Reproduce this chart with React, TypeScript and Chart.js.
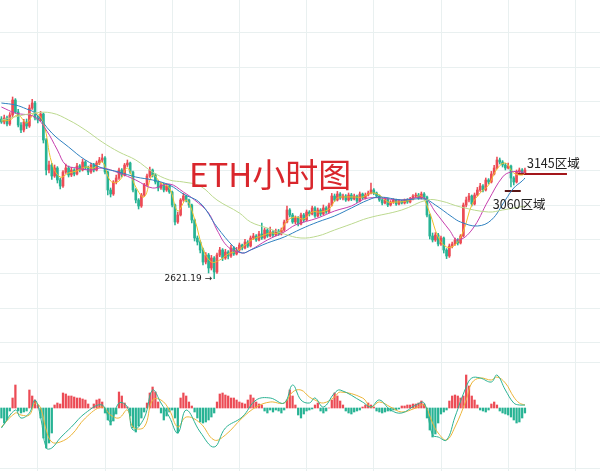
import React, { useEffect, useRef } from "react";
import { Chart, registerables } from "chart.js";
Chart.register(...registerables);

// ---- candle data (hourly ETH) ----
const opens = [
  3420,3405,3425,3395,3440,3515,3455,3390,3365,3405,
  3385,3475,3500,3425,3415,3445,3315,3165,3190,3135,
  3175,3115,3085,3155,3175,3140,3165,3145,3185,3165,
  3205,3175,3155,3190,3165,3200,3215,3225,3155,3065,
  3045,3105,3125,3165,3140,3190,3200,3155,3065,3015,
  2985,3040,3090,3135,3165,3140,3105,3075,3090,3065,
  3085,3055,2990,2905,2940,3015,3035,3015,2990,2915,
  2825,2805,2765,2705,2740,2675,2725,2655,2740,2765,
  2725,2755,2735,2775,2745,2765,2790,2775,2805,2785,
  2825,2835,2815,2845,2825,2865,2835,2855,2840,2860,
  2845,2865,2905,2965,2940,2905,2925,2895,2940,2915,
  2955,2945,2975,2935,2965,2945,2975,2955,2990,3035,
  3015,3045,3025,3035,3015,3040,3020,3035,3010,3045,
  3025,3040,3050,3065,3050,3035,3015,3000,3020,2990,
  3005,3015,2995,3010,3000,3015,3005,3020,3035,3040,
  3025,3045,3030,2940,2835,2815,2840,2795,2825,2765,
  2735,2785,2795,2815,2800,2835,2990,3015,3035,2995,
  3040,3065,3085,3065,3115,3105,3145,3175,3215,3205,
  3190,3175,3185,3125,3105,3155,3165,3150,
];
const highs = [
  3432,3440,3435,3452,3530,3522,3468,3402,3418,3420,
  3490,3518,3508,3436,3458,3450,3322,3210,3198,3190,
  3182,3125,3162,3195,3185,3178,3172,3198,3192,3218,
  3212,3185,3200,3198,3210,3228,3245,3232,3160,3075,
  3112,3140,3175,3172,3198,3215,3205,3160,3072,3022,
  3048,3098,3145,3180,3170,3148,3112,3102,3098,3095,
  3092,3060,2995,2955,3022,3048,3040,3020,2995,2920,
  2835,2812,2775,2752,2748,2738,2732,2750,2778,2772,
  2768,2762,2790,2782,2778,2800,2795,2818,2812,2835,
  2848,2842,2858,2900,2875,2872,2880,2862,2870,2868,
  2875,2915,2985,2972,2948,2935,2932,2950,2948,2965,
  2962,2985,2982,2975,2972,2990,2982,3000,3048,3045,
  3058,3052,3045,3042,3050,3048,3045,3040,3055,3050,
  3050,3060,3100,3072,3055,3040,3022,3028,3025,3012,
  3022,3020,3018,3015,3020,3022,3028,3042,3050,3048,
  3055,3052,3035,2945,2850,2852,2848,2835,2830,2772,
  2795,2805,2825,2822,2842,3000,3030,3048,3040,3050,
  3078,3098,3092,3125,3122,3158,3188,3230,3225,3212,
  3198,3200,3190,3132,3165,3175,3172,3175,
];
const lows = [
  3398,3396,3385,3388,3432,3448,3380,3352,3355,3372,
  3378,3468,3415,3400,3408,3300,3140,3150,3118,3128,
  3100,3070,3078,3148,3130,3132,3136,3140,3155,3160,
  3168,3142,3148,3155,3160,3192,3205,3145,3040,3030,
  3038,3095,3118,3130,3135,3182,3148,3055,3000,2970,
  2978,3032,3085,3128,3130,3095,3060,3068,3055,3058,
  3048,2980,2890,2898,2935,3008,3005,2978,2900,2810,
  2790,2750,2690,2695,2650,2665,2621.19,2648,2732,2712,
  2718,2720,2728,2738,2740,2758,2765,2770,2778,2780,
  2818,2808,2810,2818,2820,2828,2830,2832,2835,2838,
  2840,2858,2900,2930,2898,2895,2885,2890,2905,2910,
  2935,2940,2928,2930,2935,2940,2948,2950,2985,3008,
  3010,3018,3015,3008,3010,3012,3015,3002,3005,3018,
  3020,3035,3045,3042,3028,3008,2990,2995,2982,2985,
  2998,2988,2990,2995,2995,2998,3000,3015,3030,3018,
  3020,3022,2930,2820,2805,2808,2785,2788,2750,2722,
  2728,2775,2788,2790,2795,2830,2980,3005,2985,2990,
  3035,3058,3055,3060,3095,3100,3140,3170,3195,3180,
  3165,3170,3080,3090,3100,3148,3142,3145,
];
const closes = [
  3405,3425,3395,3440,3515,3455,3390,3365,3405,3385,
  3475,3500,3425,3415,3445,3315,3165,3190,3135,3175,
  3115,3085,3155,3175,3140,3165,3145,3185,3165,3205,
  3175,3155,3190,3165,3200,3215,3225,3155,3065,3045,
  3105,3125,3165,3140,3190,3200,3155,3065,3015,2985,
  3040,3090,3135,3165,3140,3105,3075,3090,3065,3085,
  3055,2990,2905,2940,3015,3035,3015,2990,2915,2825,
  2805,2765,2705,2740,2675,2725,2655,2740,2765,2725,
  2755,2735,2775,2745,2765,2790,2775,2805,2785,2825,
  2835,2815,2845,2825,2865,2835,2855,2840,2860,2845,
  2865,2905,2965,2940,2905,2925,2895,2940,2915,2955,
  2945,2975,2935,2965,2945,2975,2955,2990,3035,3015,
  3045,3025,3035,3015,3040,3020,3035,3010,3045,3025,
  3040,3050,3065,3050,3035,3015,3000,3020,2990,3005,
  3015,2995,3010,3000,3015,3005,3020,3035,3040,3025,
  3045,3030,2940,2835,2815,2840,2795,2825,2765,2735,
  2785,2795,2815,2800,2835,2990,3015,3035,2995,3040,
  3065,3085,3065,3115,3105,3145,3175,3215,3205,3190,
  3175,3185,3125,3105,3155,3165,3150,3165,
];

// ---- moving averages (candle index, price) ----
const maYellowIdx = [0,3,6,9,12,15,18,21,24,27,30,33,36,39,42,45,48,51,54,57,60,63,66,69,72,75,78,81,84,87,90,93,96,99,102,105,108,111,114,117,120,123,126,129,132,135,138,141,144,147,150,153,156,159,162,165,168,171,174,177,180,183,186,187];
const maYellow = [3410,3415,3440,3400,3450,3400,3200,3130,3150,3160,3180,3175,3205,3110,3110,3175,3080,3030,3140,3100,3075,2960,3015,2920,2770,2705,2715,2745,2760,2790,2820,2835,2850,2850,2910,2930,2920,2955,2955,2970,3025,3030,3030,3030,3050,3040,3005,3005,3008,3020,3035,2950,2830,2780,2790,2860,2990,3050,3090,3170,3200,3150,3140,3150];
const maPurpleIdx = [0,5,12,16,20,23,27,32,36,42,48,54,60,65,69,74,77,81,86,89,95,101,105,113,119,125,131,143,151,155,160,163,168,174,179,182,186,187];
const maPurple = [3480,3450,3430,3365,3265,3190,3175,3165,3175,3150,3115,3075,3095,3055,3015,2950,2865,2780,2750,2765,2815,2855,2890,2925,2960,2985,3025,3015,3025,2955,2865,2815,2865,3015,3130,3155,3155,3150];
const maBlueIdx = [0,5,9,12,18,24,30,36,42,48,54,60,65,71,77,83,86,89,95,101,107,113,119,125,131,135,143,151,155,161,164,170,175,180,183,186,187];
const maBlue = [3500,3490,3470,3450,3350,3280,3215,3175,3155,3130,3115,3090,3045,3000,2880,2780,2750,2765,2800,2830,2870,2905,2935,2975,3015,3030,3015,3020,2990,2930,2905,2885,2915,3015,3075,3110,3125];
const maGreenIdx = [0,12,18,24,30,36,42,48,54,60,65,71,77,85,89,95,101,107,113,119,125,131,143,152,157,164,174,179,187];
const maGreen = [3415,3450,3450,3415,3365,3305,3255,3215,3155,3115,3105,3085,3015,2950,2905,2875,2845,2825,2835,2865,2895,2925,2965,3015,3010,2980,2955,2965,2985];

// ---- MACD ----
const macdHist = [
  -10,-15,-12,-3,10,23,-3,-5,-4,-3,
  18,12,8,3,-10,-30,-40,-35,-25,3,
  5,4,15,14,12,12,11,10,10,9,
  8,4,0,4,8,9,6,-5,-12,-17,
  -13,-6,16,12,5,1,-8,-20,-24,-18,
  -10,-4,5,15,21,16,6,-5,-12,-8,
  -4,-2,-10,-25,10,15,12,6,2,-4,
  -10,-14,-15,-14,-12,-9,-5,6,14,15,
  13,12,10,10,8,6,5,4,8,13,
  10,6,4,3,-3,-5,-2,-4,-2,-3,
  -5,-2,8,18,12,3,-7,-10,-6,-3,
  -2,-1,3,5,-3,-5,-3,0,8,15,
  12,7,3,-3,-5,-6,-4,-3,-2,1,
  3,5,3,1,-3,-4,-5,-4,-3,-3,
  -2,-2,-1,2,2,3,3,4,4,5,
  7,4,-10,-22,-29,-26,-15,-6,-4,-2,
  7,12,13,12,10,12,33,22,12,8,
  3,-2,-3,-4,-2,4,6,3,-3,-5,
  -6,-7,-9,-12,-15,-14,-10,-5,
];
const macdIdx = [0,5,7,10,12,14,16,18,21,25,30,36,39,42,45,47,51,54,57,60,63,66,71,76,80,86,91,96,101,104,107,110,112,115,119,121,129,132,135,139,143,148,151,154,156,159,162,166,168,171,175,177,180,183,185,187];
const difVals = [-20,-2,-10,-5,8,-9,-40,-40,-30,-19,-5,3,-14,5,1,-22,-10,18,5,-9,-25,-2,-24,-39,-20,-9,8,10,5,23,8,5,10,1,15,18,6,1,8,-2,-5,3,5,-27,-29,-32,-9,21,30,30,26,33,18,5,3,3];
const deaVals = [-19,-5,-7,-7,5,0,-22,-34,-34,-27,-10,1,-7,-10,-2,-19,-19,8,8,-2,-19,-9,-15,-32,-27,-10,1,6,5,16,18,11,8,5,11,16,10,1,6,1,-4,0,3,-15,-25,-32,-19,8,25,30,28,31,25,11,5,3];

// ---- annotations ----
const titleText = "ETH小时图";
const levelHigh = 3145;
const levelLow = 3060;
const levelHighLabel = "3145区域";
const levelLowLabel = "3060区域";
const levelHighSpan = [184.5, 202];
const levelLowSpan = [179.8, 185.5];

const UP = "#ec4b55";
const DOWN = "#27b394";
const GRID = "#e9f0f0";

const textPlugin = {
  id: "texts",
  afterDatasetsDraw(chart: any) {
    const { ctx, scales } = chart;
    const xs = scales.x;
    const ys = scales.y;
    ctx.save();
    ctx.fillStyle = "#d9262c";
    ctx.font = '33px "Noto Sans CJK SC", "Noto Sans", sans-serif';
    ctx.textBaseline = "alphabetic";
    ctx.textAlign = "left";
    ctx.fillText(titleText, 189, 187);

    ctx.fillStyle = "#222";
    ctx.font = '12.5px "Noto Sans CJK SC", "Noto Sans", sans-serif';
    ctx.textBaseline = "middle";
    ctx.fillText(levelHighLabel, xs.getPixelForValue(levelHighSpan[0]) + 9, ys.getPixelForValue(levelHigh) - 11);
    ctx.fillText(levelLowLabel, xs.getPixelForValue(levelLowSpan[0]) - 12, ys.getPixelForValue(levelLow) + 13);

    // lowest low label
    let li = 0;
    for (let i = 1; i < lows.length; i++) if (lows[i] < lows[li]) li = i;
    const lx = xs.getPixelForValue(li);
    const ly = ys.getPixelForValue(lows[li]);
    ctx.font = '9px "DejaVu Sans", sans-serif';
    ctx.textAlign = "right";
    ctx.fillStyle = "#222";
    ctx.fillText(lows[li].toFixed(2) + " →", lx - 2, ly);
    ctx.restore();
  },
};

export default function App() {
  const ref = useRef<HTMLCanvasElement>(null);
  useEffect(() => {
    if (!ref.current) return;
    const pts = (idx: number[], vals: number[]) => idx.map((x, k) => ({ x, y: vals[k] }));
    const candleColor = (c: any) => (closes[c.dataIndex] >= opens[c.dataIndex] ? UP : DOWN);
    const line = (label: string, data: any[], color: string, axis = "y", width = 1) => ({
      type: "line" as const,
      label,
      data,
      borderColor: color,
      borderWidth: width,
      pointRadius: 0,
      tension: 0.4,
      yAxisID: axis,
      order: 1,
    });
    const chart = new Chart(ref.current, {
      type: "bar",
      data: {
        datasets: [
          line("MA120", pts(maGreenIdx, maGreen), "#bcd98f"),
          line("MA60", pts(maBlueIdx, maBlue), "#2f80c0"),
          line("MA30", pts(maPurpleIdx, maPurple), "#c63fae"),
          line("MA7", pts(maYellowIdx, maYellow), "#f0bf2a"),
          line("3145", [{ x: levelHighSpan[0], y: levelHigh }, { x: levelHighSpan[1], y: levelHigh }], "#a3161b", "y", 2),
          line("3060", [{ x: levelLowSpan[0], y: levelLow }, { x: levelLowSpan[1], y: levelLow }], "#5a1616", "y", 2),
          line("DIF", pts(macdIdx, difVals), "#2bb293", "y2"),
          line("DEA", pts(macdIdx, deaVals), "#ecb53a", "y2"),
          {
            type: "bar" as const,
            label: "body",
            data: closes.map((c, i) => ({ x: i, y: [opens[i], c] })) as any,
            backgroundColor: candleColor,
            barThickness: 2,
            minBarLength: 1,
            grouped: false,
            yAxisID: "y",
            order: 2,
          },
          {
            type: "bar" as const,
            label: "wick",
            data: closes.map((_, i) => ({ x: i, y: [lows[i], highs[i]] })) as any,
            backgroundColor: candleColor,
            barThickness: 0.9,
            grouped: false,
            yAxisID: "y",
            order: 3,
          },
          {
            type: "bar" as const,
            label: "MACD",
            data: macdHist.map((v, i) => ({ x: i, y: v })) as any,
            backgroundColor: macdHist.map((v) => (v >= 0 ? UP : DOWN)),
            barThickness: 1.6,
            grouped: false,
            yAxisID: "y2",
            order: 2,
          },
        ],
      },
      options: {
        animation: false,
        responsive: false,
        devicePixelRatio: 1,
        layout: { padding: 0 },
        plugins: { legend: { display: false }, tooltip: { enabled: false } },
        scales: {
          x: {
            type: "linear",
            min: -0.5,
            max: 213.8,
            offset: false,
            ticks: { display: false },
            border: { display: false },
            grid: { color: GRID, drawTicks: false, lineWidth: 1, offset: false },
            afterBuildTicks: (s: any) => {
              const t = [];
              for (let v = 13.07; v < 214; v += 24) t.push({ value: v });
              s.ticks = t;
            },
          },
          y: {
            type: "linear",
            min: 1660,
            max: 4015,
            ticks: { display: false },
            border: { display: false },
            grid: { color: GRID, drawTicks: false, offset: false },
            afterBuildTicks: (s: any) => {
              const t = [];
              for (let k = 0; k < 10; k++) t.push({ value: 3850 - 172 * k });
              s.ticks = t;
            },
          },
          y2: {
            type: "linear",
            position: "right",
            min: -63,
            max: 408,
            ticks: { display: false },
            border: { display: false },
            grid: { color: GRID, drawTicks: false, offset: false },
            afterBuildTicks: (s: any) => {
              s.ticks = [{ value: 46 }, { value: -60 }];
            },
          },
        },
      },
      plugins: [textPlugin],
    });
    return () => chart.destroy();
  }, []);
  return (
    <div style={{ position: "fixed", left: 0, top: 0, width: 600, height: 471, background: "#fff" }}>
      <canvas ref={ref} width={600} height={471} style={{ display: "block" }} />
    </div>
  );
}
